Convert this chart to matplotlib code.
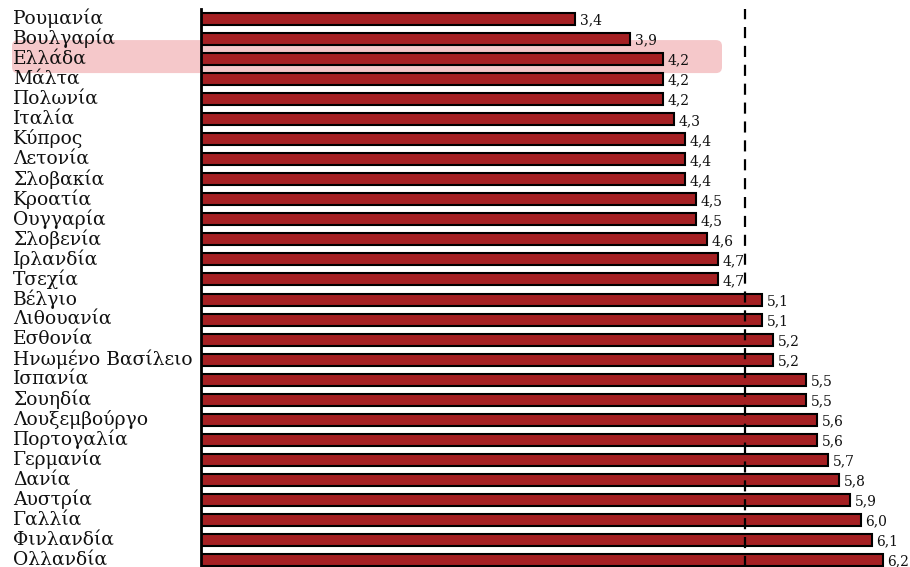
import matplotlib
matplotlib.use("Agg")
import matplotlib.pyplot as plt
import matplotlib.transforms as mtransforms
from matplotlib.patches import FancyBboxPatch

countries = ["Ρουμανία", "Βουλγαρία", "Ελλάδα", "Μάλτα", "Πολωνία", "Ιταλία", "Κύπρος",
             "Λετονία", "Σλοβακία", "Κροατία", "Ουγγαρία", "Σλοβενία", "Ιρλανδία", "Τσεχία",
             "Βέλγιο", "Λιθουανία", "Εσθονία", "Ηνωμένο Βασίλειο", "Ισπανία", "Σουηδία",
             "Λουξεμβούργο", "Πορτογαλία", "Γερμανία", "Δανία", "Αυστρία", "Γαλλία",
             "Φινλανδία", "Ολλανδία"]
values = [3.4, 3.9, 4.2, 4.2, 4.2, 4.3, 4.4, 4.4, 4.4, 4.5, 4.5, 4.6, 4.7, 4.7,
          5.1, 5.1, 5.2, 5.2, 5.5, 5.5, 5.6, 5.6, 5.7, 5.8, 5.9, 6.0, 6.1, 6.2]
eu_average = 4.95
highlight = "Ελλάδα"

W, H = 910, 567
fig = plt.figure(figsize=(W / 100, H / 100), dpi=100)
ax = fig.add_axes([201 / W, 0.0, 1 - 201 / W, (H - 9) / H])
ax.set_zorder(1)

serif = ["DejaVu Serif"]
y = list(range(len(countries)))
ax.barh(y, values, height=0.6, color="#a52023", edgecolor="black", linewidth=1.5, zorder=2)
ax.axvline(eu_average, color="black", linestyle=(0, (5, 3.5)), linewidth=1.6, zorder=3)

ax.set_xlim(0, 6.45)
ax.set_ylim(27.35, -0.5)
for s in ["top", "right", "bottom"]:
    ax.spines[s].set_visible(False)
ax.spines["left"].set_linewidth(2)
ax.set_xticks([])
ax.set_yticks([])
ax.patch.set_alpha(0)

trans = mtransforms.blended_transform_factory(fig.transFigure, ax.transData)
for i, (c, v) in enumerate(zip(countries, values)):
    ax.text(13 / W, i - 0.03, c, transform=trans, ha="left", va="center",
            fontsize=13.5, family=serif, color="#111111", clip_on=False)
    ax.text(v + 0.045, i + 0.08, f"{v:.1f}".replace(".", ","), ha="left", va="center",
            fontsize=10, family=serif, color="#111111", zorder=4)

# highlight band behind Greece
fig.canvas.draw()
idx = countries.index(highlight)
_, yc = ax.transData.transform((0, idx))
x0, x1 = 12, 722
ytop = yc + 19
ybot = yc - 14
patch = FancyBboxPatch((x0, ybot), x1 - x0, ytop - ybot,
                       boxstyle="round,pad=0,rounding_size=6",
                       transform=mtransforms.IdentityTransform(),
                       facecolor="#f5c8ca", edgecolor="none", zorder=-1)
fig.patches.append(patch)
patch.set_figure(fig)

fig.savefig("out.png", dpi=100)
